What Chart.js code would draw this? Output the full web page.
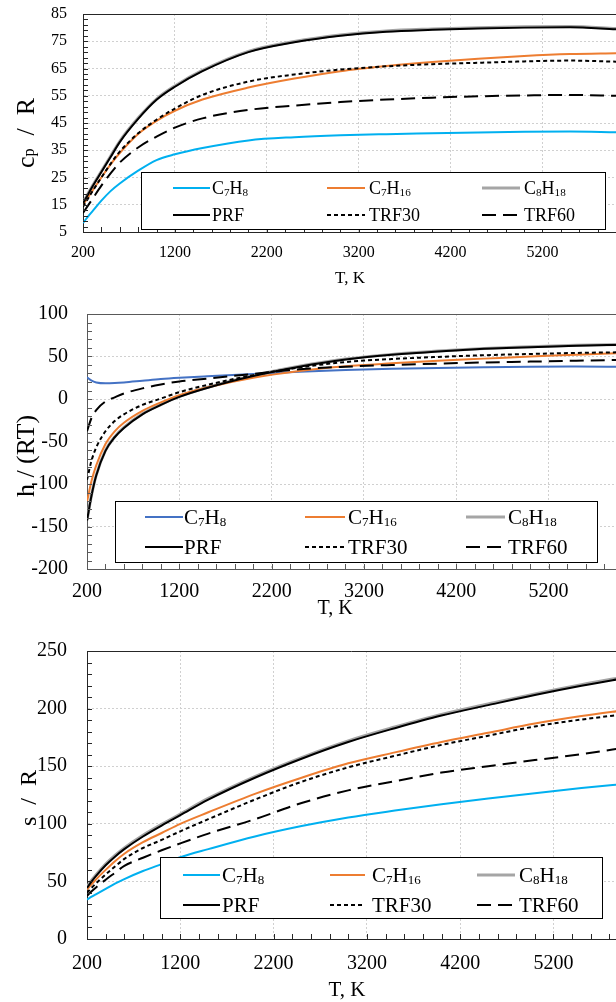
<!DOCTYPE html>
<html>
<head>
<meta charset="utf-8">
<script src="https://cdn.jsdelivr.net/npm/chart.js@4.4.1/dist/chart.umd.min.js"></script>
<style>
	html, body { margin: 0; padding: 0; background: #fff; }
	#wrap { position: relative; width: 616px; height: 1002px; overflow: hidden; }
	.box { position: absolute; left: 0; width: 616px; }
</style>
</head>
<body>
<div id="wrap">
	<div class="box" style="top:0;height:300px"><canvas id="cp-chart"></canvas></div>
	<div class="box" style="top:300px;height:330px"><canvas id="h-chart"></canvas></div>
	<div class="box" style="top:630px;height:372px"><canvas id="s-chart"></canvas></div>
</div>
<script>
( function () {
	'use strict';

	var temps = [ 200, 250, 300, 400, 500, 600, 800, 1000, 1200, 1500, 2000, 2500, 3000, 3500, 4000, 4500, 5000, 5500, 6000 ];
	var names = [ 'C_7H_8', 'C_7H_16', 'C_8H_18', 'PRF', 'TRF30', 'TRF60' ];
	var xTicks = [ 200, 1200, 2200, 3200, 4200, 5200 ];

	// c_p / R
	var cpC7H8 = [ 8.3, 10.5, 12.5, 16.5, 20, 22.8, 27.5, 31.4, 33.5, 35.8, 38.6, 39.8, 40.5, 40.9, 41.2, 41.5, 41.8, 41.9, 41.6 ];
	var cpC7H16 = [ 15, 17.5, 20, 25, 29.8, 34, 41, 45.8, 49.5, 53.6, 58, 61.3, 64, 65.9, 67.4, 68.6, 69.6, 70.3, 70.6 ];
	var cpC8H18 = [ 15.8, 18.8, 21.8, 27.3, 32.8, 38.3, 46.8, 53.8, 58.6, 64.3, 71.3, 74.9, 77.3, 78.8, 79.5, 80, 80.3, 80.4, 79.7 ];
	var cpPRF = [ 15.5, 18.5, 21.5, 27, 32.5, 38, 46.5, 53.5, 58.3, 64, 71, 74.6, 77, 78.5, 79.2, 79.7, 80, 80.1, 79.4 ];
	var cpTRF30 = [ 14.3, 17, 19.8, 25, 30, 34.5, 41.2, 46.2, 50.3, 55.3, 60.2, 62.8, 64.6, 65.8, 66.6, 67.1, 67.6, 67.9, 67.5 ];
	var cpTRF60 = [ 12, 14.5, 17, 22, 26.5, 30.5, 36, 40, 43.3, 46.7, 49.8, 51.4, 52.7, 53.6, 54.3, 54.8, 55.1, 55.3, 55 ];
	var cpTicks = [ 5, 15, 25, 35, 45, 55, 65, 75, 85 ];

	// h / (RT)
	var hC7H8 = [ 25.5, 21.5, 19.5, 18.5, 18.8, 19.5, 21.5, 23.5, 25, 26.8, 29.5, 32, 34, 35.5, 36.6, 37.4, 38, 38.2, 38 ];
	var hC7H16 = [ -121, -96, -78, -53, -38, -28, -14, -4, 4.5, 13.5, 25, 33, 38.5, 42, 45, 47.5, 50, 52, 54 ];
	var hC8H18 = [ -142.5, -112.5, -89.5, -60.5, -44.5, -33.5, -17.5, -6.5, 3, 13.5, 27.5, 38.5, 47, 52.5, 56.5, 59.5, 61.5, 63.2, 64.3 ];
	var hPRF = [ -143, -113, -90, -61, -45, -34, -18, -7, 2.5, 13, 27, 38, 46.5, 52, 56, 59, 61, 62.7, 63.8 ];
	var hTRF30 = [ -95, -72, -57, -38, -26, -18, -7, 0.5, 8, 16.5, 28, 37, 43.5, 47, 49.5, 51.5, 53, 54.2, 55 ];
	var hTRF60 = [ -38, -22, -13, -3, 2, 6.5, 12.5, 17, 20.7, 24, 29.5, 35, 38, 40, 41.6, 43, 44, 45, 46 ];
	var hTicks = [ -200, -150, -100, -50, 0, 50, 100 ];

	// s / R
	var sC7H8 = [ 34.2, 36.7, 39, 43.5, 48, 52, 59, 65, 71, 78, 89, 98, 105.5, 111.5, 117, 122, 126.5, 131, 135 ];
	var sC7H16 = [ 43, 47.5, 52, 60, 67.5, 74, 84, 92, 100, 110, 126, 140, 152.5, 162, 171, 179, 187, 193.5, 199 ];
	var sC8H18 = [ 45.3, 51, 56, 65, 72.5, 79, 90, 99.5, 108.5, 122, 141, 157.5, 172, 184, 195, 204, 212.8, 220.8, 228 ];
	var sPRF = [ 44.3, 50, 55, 64, 71.5, 78, 89, 98.5, 107.5, 121, 140, 156.5, 171, 183, 194, 203, 211.8, 219.8, 227 ];
	var sTRF30 = [ 40, 44.5, 48.5, 56, 63, 69.5, 79, 86, 93.5, 104, 121, 136.5, 149, 159, 168.5, 176.5, 184.5, 190.5, 195.5 ];
	var sTRF60 = [ 37.6, 41.5, 45, 51.5, 57.5, 63.5, 70.5, 77, 83, 91.5, 104, 118, 129, 137, 144.5, 150, 155.3, 160.5, 166.5 ];
	var sTicks = [ 0, 50, 100, 150, 200, 250 ];

	var FONT = '"Liberation Serif", "Times New Roman", serif';
	Chart.defaults.font.family = FONT;
	Chart.defaults.color = '#000';

	function lineStyles( blue ) {
		return [
			{ color: blue, width: 2, dash: [], order: 6 },
			{ color: '#ed7d31', width: 2, dash: [], order: 4 },
			{ color: '#a5a5a5', width: 3, dash: [], order: 5 },
			{ color: '#000', width: 2, dash: [], order: 1 },
			{ color: '#000', width: 2, dash: [ 4, 3 ], order: 2 },
			{ color: '#000', width: 2, dash: [ 14, 7 ], order: 3 },
		];
	}

	// "_7" or "_p" => subscript
	function richText( ctx, text, x, y, size, align ) {
		var parts = [], re = /_(\d+|[a-z])|([^_]+)/g, m, w = 0;
		while ( ( m = re.exec( text ) ) ) {
			parts.push( m[ 1 ] ? { t: m[ 1 ], sub: true } : { t: m[ 2 ], sub: false } );
		}
		parts.forEach( function ( p ) {
			ctx.font = ( p.sub ? size * 0.62 : size ) + 'px ' + FONT;
			p.w = ctx.measureText( p.t ).width;
			w += p.w;
		} );
		var cx = align === 'center' ? x - w / 2 : x;
		parts.forEach( function ( p ) {
			ctx.font = ( p.sub ? size * 0.62 : size ) + 'px ' + FONT;
			ctx.fillText( p.t, cx, p.sub ? y + size * 0.12 : y );
			cx += p.w;
		} );
	}

	var framePlugin = {
		id: 'frame',
		afterDatasetsDraw: function ( chart, args, o ) {
			var ctx = chart.ctx, a = chart.chartArea, xs = chart.scales.x, ys = chart.scales.y;
			var v, p;
			ctx.save();
			ctx.strokeStyle = o.axisColor;
			ctx.lineWidth = 1;
			ctx.setLineDash( [] );
			ctx.beginPath();
			ctx.moveTo( a.left, Math.round( a.top ) + 0.5 );
			ctx.lineTo( a.right, Math.round( a.top ) + 0.5 );
			// inward tick marks
			for ( v = xs.min; v <= xs.max; v += o.xMinor ) {
				p = Math.round( xs.getPixelForValue( v ) ) + 0.5;
				ctx.moveTo( p, a.bottom );
				ctx.lineTo( p, a.bottom - 5 );
			}
			for ( v = ys.min; v <= ys.max; v += o.yMinor ) {
				p = Math.round( ys.getPixelForValue( v ) ) + 0.5;
				ctx.moveTo( a.left, p );
				ctx.lineTo( a.left + 5, p );
			}
			ctx.stroke();

			// legend box
			var lg = o.legend, b = lg.box;
			ctx.fillStyle = '#fff';
			ctx.fillRect( b[ 0 ], b[ 1 ], b[ 2 ] - b[ 0 ], b[ 3 ] - b[ 1 ] );
			ctx.strokeStyle = '#000';
			ctx.strokeRect( b[ 0 ] + 0.5, b[ 1 ] + 0.5, b[ 2 ] - b[ 0 ], b[ 3 ] - b[ 1 ] );
			chart.data.datasets.forEach( function ( ds, i ) {
				var row = lg.rows[ Math.floor( i / 3 ) ], col = lg.cols[ i % 3 ];
				ctx.beginPath();
				ctx.setLineDash( ds.borderDash );
				ctx.strokeStyle = ds.borderColor;
				ctx.lineWidth = ds.borderWidth;
				ctx.moveTo( col[ 0 ], row );
				ctx.lineTo( col[ 1 ], row );
				ctx.stroke();
				ctx.setLineDash( [] );
				ctx.fillStyle = '#000';
				ctx.textBaseline = 'alphabetic';
				ctx.textAlign = 'left';
				richText( ctx, ds.label, col[ 2 ], row + lg.fs * 0.33, lg.fs, 'left' );
			} );

			// axis titles
			ctx.fillStyle = '#000';
			ctx.textBaseline = 'middle';
			ctx.textAlign = 'left';
			richText( ctx, o.xTitle.text, o.xTitle.x, o.xTitle.y, o.xTitle.fs, 'center' );
			ctx.translate( o.yTitle.x, o.yTitle.y );
			ctx.rotate( -Math.PI / 2 );
			richText( ctx, o.yTitle.text, 0, 0, o.yTitle.fs, 'center' );
			ctx.restore();
		},
	};

	function makeChart( id, p ) {
		var st = lineStyles( p.blue );
		var datasets = p.series.map( function ( vals, i ) {
			return {
				label: names[ i ],
				data: temps.map( function ( t, j ) { return { x: t, y: vals[ j ] }; } ),
				borderColor: st[ i ].color,
				borderWidth: st[ i ].width,
				borderDash: st[ i ].dash,
				order: st[ i ].order,
				pointRadius: 0,
				fill: false,
				cubicInterpolationMode: 'monotone',
			};
		} );
		var gridOpts = { color: '#d0d0d0', lineWidth: 1, drawTicks: false };
		var borderOpts = { display: true, color: p.axisColor, width: 1, dash: [ 2, 2 ] };
		return new Chart( document.getElementById( id ), {
			type: 'line',
			data: { datasets: datasets },
			plugins: [ framePlugin ],
			options: {
				responsive: true,
				maintainAspectRatio: false,
				animation: false,
				events: [],
				layout: { padding: { top: p.top, left: 0, right: 0, bottom: 0 } },
				plugins: {
					legend: { display: false },
					tooltip: { enabled: false },
					frame: p.frame,
				},
				scales: {
					x: {
						type: 'linear',
						min: 200,
						max: p.xMax,
						grid: gridOpts,
						border: borderOpts,
						afterBuildTicks: function ( s ) {
							s.ticks = xTicks.map( function ( v ) { return { value: v }; } );
						},
						afterFit: function ( s ) {
							s.height = p.H - p.bottom;
							s.paddingLeft = 0;
							s.paddingRight = 0;
						},
						ticks: {
							autoSkip: false, maxRotation: 0, minRotation: 0,
							padding: p.xPad,
							font: { size: p.fs },
							callback: function ( v ) { return String( v ); },
						},
					},
					y: {
						min: p.yTicks[ 0 ],
						max: p.yTicks[ p.yTicks.length - 1 ],
						grid: gridOpts,
						border: borderOpts,
						afterBuildTicks: function ( s ) {
							s.ticks = p.yTicks.map( function ( v ) { return { value: v }; } );
						},
						afterFit: function ( s ) {
							s.width = p.left;
							s.paddingTop = 0;
							s.paddingBottom = 0;
						},
						ticks: {
							autoSkip: false,
							padding: p.yPad,
							font: { size: p.fs },
							callback: function ( v ) { return String( v ); },
						},
					},
				},
			},
		} );
	}

	makeChart( 'cp-chart', {
		series: [ cpC7H8, cpC7H16, cpC8H18, cpPRF, cpTRF30, cpTRF60 ],
		yTicks: cpTicks, blue: '#00b0f0', axisColor: '#262626',
		H: 300, left: 83, top: 14, bottom: 232, xMax: 6000, fs: 16, xPad: 11, yPad: 16,
		frame: {
			axisColor: '#262626', xMinor: 200, yMinor: 2,
			legend: { box: [ 141, 172, 605, 229 ], rows: [ 188, 215 ], fs: 18,
				cols: [ [ 173, 210, 212 ], [ 327, 365, 369 ], [ 482, 520, 524 ] ] },
			xTitle: { text: 'T, K', x: 350, y: 279, fs: 17 },
			yTitle: { text: 'c_p  /  R', x: 27, y: 133, fs: 26 },
		},
	} );

	makeChart( 'h-chart', {
		series: [ hC7H8, hC7H16, hC8H18, hPRF, hTRF30, hTRF60 ],
		yTicks: hTicks, blue: '#4472c4', axisColor: '#595959',
		H: 330, left: 87, top: 14, bottom: 269, xMax: 5930, fs: 20, xPad: 11, yPad: 19,
		frame: {
			axisColor: '#595959', xMinor: 200, yMinor: 10,
			legend: { box: [ 115, 201, 597, 262 ], rows: [ 217, 247 ], fs: 21,
				cols: [ [ 145, 183, 184 ], [ 305, 345, 348 ], [ 466, 505, 508 ] ] },
			xTitle: { text: 'T, K', x: 335, y: 309, fs: 20 },
			yTitle: { text: 'h / (RT)', x: 27, y: 156, fs: 26 },
		},
	} );

	makeChart( 's-chart', {
		series: [ sC7H8, sC7H16, sC8H18, sPRF, sTRF30, sTRF60 ],
		yTicks: sTicks, blue: '#00b0f0', axisColor: '#262626',
		H: 372, left: 87, top: 21, bottom: 309, xMax: 5870, fs: 20, xPad: 13, yPad: 20,
		frame: {
			axisColor: '#262626', xMinor: 200, yMinor: 10,
			legend: { box: [ 160, 227, 602, 288 ], rows: [ 245, 275 ], fs: 21,
				cols: [ [ 183, 220, 222 ], [ 330, 365, 372 ], [ 477, 515, 519 ] ] },
			xTitle: { text: 'T, K', x: 347, y: 360, fs: 21 },
			yTitle: { text: 's  /  R', x: 30, y: 168, fs: 24 },
		},
	} );
} )();
</script>
</body>
</html>
